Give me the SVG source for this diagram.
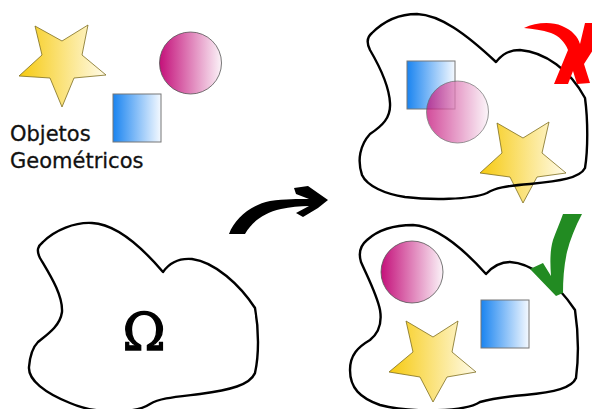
<svg xmlns="http://www.w3.org/2000/svg" width="592" height="409" viewBox="0 0 592 409">
  <defs>
    <linearGradient id="gYellow" x1="0" y1="0" x2="1" y2="0">
      <stop offset="0" stop-color="#f6ca10"/>
      <stop offset="1" stop-color="#fffbe8"/>
    </linearGradient>
    <linearGradient id="gMagenta" x1="0" y1="0" x2="1" y2="0">
      <stop offset="0" stop-color="#c4107a"/>
      <stop offset="1" stop-color="#fbf3f8"/>
    </linearGradient>
    <linearGradient id="gBlue" x1="0" y1="0" x2="1" y2="0">
      <stop offset="0" stop-color="#1a84f0"/>
      <stop offset="1" stop-color="#f4f9ff"/>
    </linearGradient>
  </defs>
  <style>
    .star { fill: url(#gYellow); stroke: #7d6d1e; stroke-width: 0.8; stroke-linejoin: miter; }
    .ball { fill: url(#gMagenta); stroke: #555; stroke-width: 0.8; }
    .box { fill: url(#gBlue); stroke: #777; stroke-width: 1; }
    .blob { fill: none; stroke: #000; stroke-width: 2.4; stroke-linejoin: round; }
    .label { font-family: "DejaVu Sans", "Liberation Sans", sans-serif; font-size: 21px; fill: #111; stroke: #111; stroke-width: 0.3; }
    .omega { font-family: "DejaVu Serif", "Liberation Serif", serif; font-size: 52px; fill: #000; stroke: #000; stroke-width: 1.3; }
  </style>

  <rect width="592" height="409" fill="#fff"/>

  <!-- loose geometric objects -->
  <g id="objects">
    <path class="star" d="M35,26 L62,41 L88,25 L82,55 L106,75 L74,78 L62,107 L50,78 L19,76 L42,55 Z"/>
    <circle class="ball" cx="190.5" cy="63" r="31"/>
    <rect class="box" x="113" y="94" width="48" height="48"/>
    <text class="label" x="10" y="141">Objetos</text>
    <text class="label" x="10" y="168">Geométricos</text>
  </g>

  <!-- empty domain -->
  <g id="domain">
    <path class="blob" d="M43,242 C55,230 75,222 92,223 C115,224 140,245 163,272 C170,262 180,258 192,259 C215,262 240,285 255,308 C259,330 259,355 255,373 C250,385 230,390 200,394 C175,397 160,398 150,404 C135,414 95,414 70,403 C45,393 28,380 29,367 C30,355 33,347 38,342 C48,334 60,326 62,312 C63,295 50,275 40,258 C36,250 38,246 43,242 Z"/>
    <text class="omega" x="144" y="350" text-anchor="middle">Ω</text>
  </g>

  <!-- domain with overlapping objects -->
  <g id="overlapping">
    <rect class="box" x="407" y="61" width="48" height="48"/>
    <circle class="ball" cx="457.5" cy="112" r="31" opacity="0.75"/>
    <path class="star" d="M497,123 L523,138 L549,122 L542,153 L566,173 L537,177 L523,203 L510,177 L480,173 L502,153 Z"/>
    <path class="blob" d="M372,33 C385,20 400,14 417,14 C440,15 465,33 496,62 C503,53 510,50 520,50 C545,52 570,70 585,98 C588,120 588,150 585,168 C580,178 560,181 530,184 C505,186 495,188 487,193 C470,200 430,200 405,197 C385,194 367,186 362,175 C357,160 360,145 370,134 C382,126 391,118 390,103 C389,85 380,67 370,50 C366,42 367,37 372,33 Z"/>
    <path id="cross" fill="#ff0000" d="M524,28 C535,23 550,21 562,26 C572,30 578,37 580,44 L585,23 L593,23 L593,50 L584,64 L590,83 L577,84 L573,71 L568,84 L554,84 L568,50 C565,42 559,36 551,33 C542,30 533,29 524,28 Z"/>
  </g>

  <!-- domain with separated objects -->
  <g id="separated">
    <path class="blob" d="M367,240 C378,230 395,225 413,225 C435,226 460,245 486,274 C493,266 500,262 510,262 C530,263 555,280 575,310 C578,330 579,355 576,378 C572,388 555,392 525,395 C500,397 490,399 480,402 C465,412 410,413 380,405 C360,398 350,388 350,370 C350,355 358,347 370,340 C380,332 382,322 380,310 C377,295 368,278 361,262 C358,252 361,245 367,240 Z"/>
    <circle class="ball" cx="412" cy="272" r="31"/>
    <rect class="box" x="481" y="300" width="48" height="48"/>
    <path class="star" d="M406,321 L433,337 L458,321 L452,352 L476,372 L447,377 L433,402 L420,377 L389,372 L413,352 Z"/>
    <path id="tick" fill="#228b22" d="M530,269 L543,263 L551,276 C550,262 550,250 553,240 C556,231 560,223 563,214 L582,214 C575,227 570,240 567,252 C564,265 563,280 563,293 L556,296 Z"/>
  </g>

  <!-- transition arrow -->
  <g id="connectors">
    <path fill="#000" d="M229,234 C235,218 251,205 270,201 C285,199 298,199 309,199 L296,194 L294,188 L308,186 L328,200 L318,208 L303,217 L296,213 L309,206 C300,206 290,207 281,209 C263,213 252,222 245,234 Z"/>
  </g>
</svg>
